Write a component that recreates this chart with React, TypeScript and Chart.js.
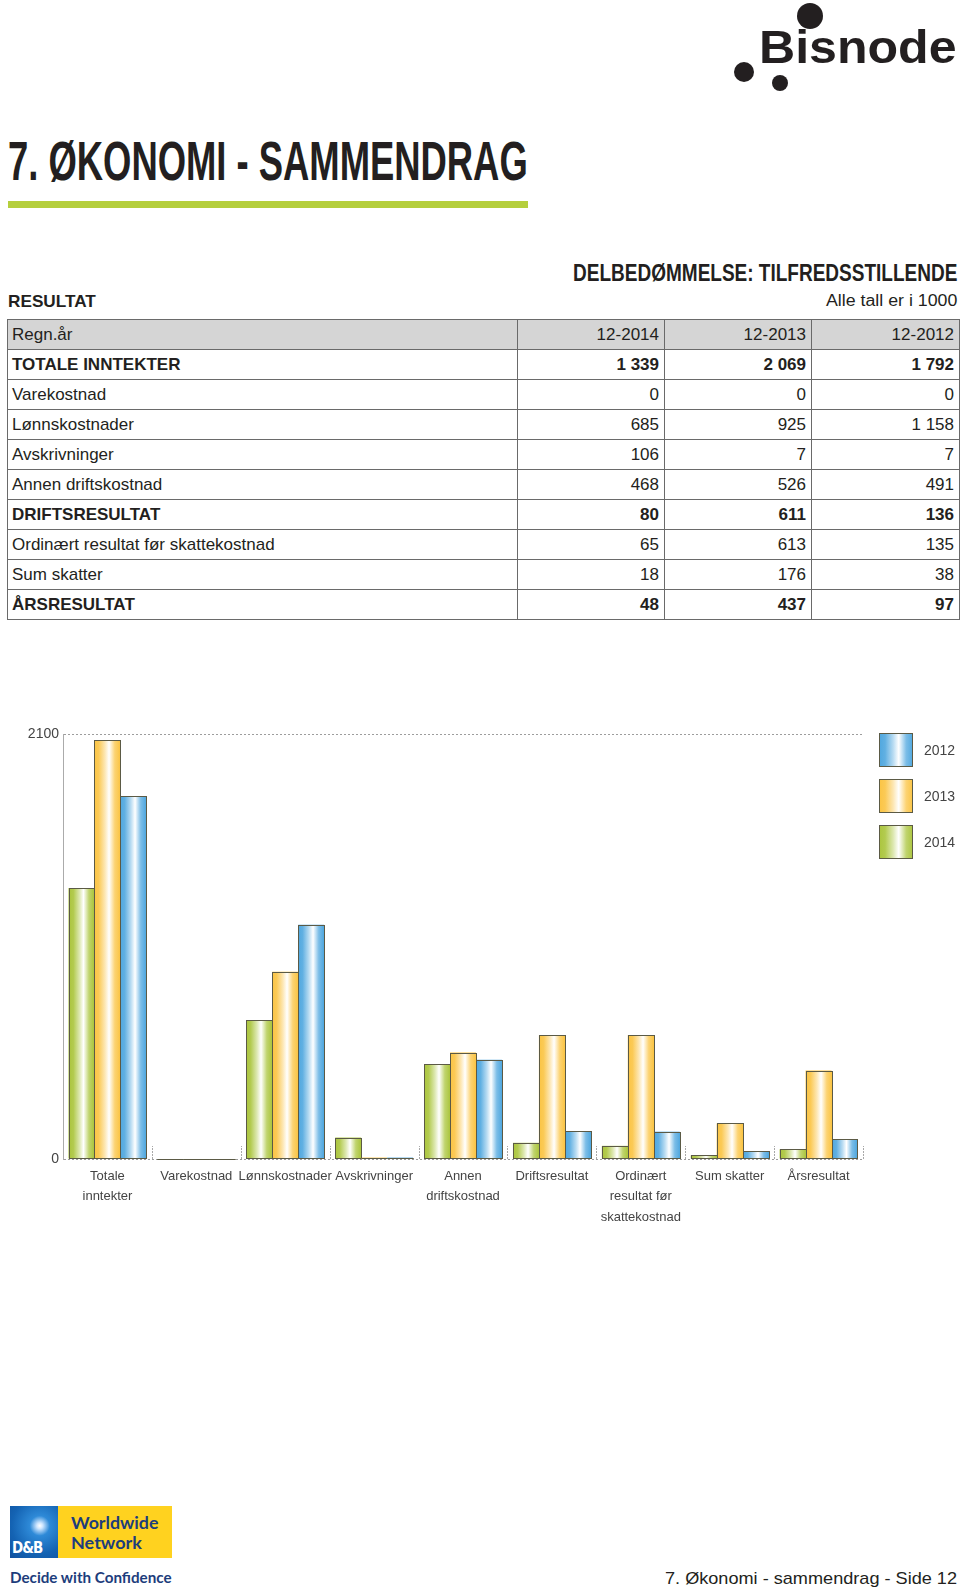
import React, { useEffect, useLayoutEffect, useRef, useState } from 'react';
import { Chart, registerables } from 'chart.js';

Chart.register(...registerables);

// ---------- data ----------
const tableHeaderLabel = 'Regn.år';
const periods = ['12-2014', '12-2013', '12-2012'];
const tableLabels = [
  'TOTALE INNTEKTER',
  'Varekostnad',
  'Lønnskostnader',
  'Avskrivninger',
  'Annen driftskostnad',
  'DRIFTSRESULTAT',
  'Ordinært resultat før skattekostnad',
  'Sum skatter',
  'ÅRSRESULTAT',
];
const boldRows = [true, false, false, false, false, true, false, false, true];
const chartLabels: (string | string[])[] = [
  ['Totale', 'inntekter'],
  'Varekostnad',
  'Lønnskostnader',
  'Avskrivninger',
  ['Annen', 'driftskostnad'],
  'Driftsresultat',
  ['Ordinært', 'resultat før', 'skattekostnad'],
  'Sum skatter',
  'Årsresultat',
];
const seriesNames = ['2014', '2013', '2012'];
const values2014 = [1339, 0, 685, 106, 468, 80, 65, 18, 48];
const values2013 = [2069, 0, 925, 7, 526, 611, 613, 176, 437];
const values2012 = [1792, 0, 1158, 7, 491, 136, 135, 38, 97];
const yTicks = [0, 2100];

// ---------- styles ----------
const seriesColors = ['#abc53d', '#fbc443', '#4fa7df'];
const BAR_BORDER = '#5b5a45';
const FONT = "'Liberation Sans', Arial, Helvetica, sans-serif";
const TEXT = '#231f20';

function mixWhite(hex: string, t: number) {
  const n = parseInt(hex.slice(1), 16);
  const r = (n >> 16) & 255, g = (n >> 8) & 255, b = n & 255;
  const m = (c: number) => Math.round(c + (255 - c) * t);
  return `rgb(${m(r)},${m(g)},${m(b)})`;
}

function barGradient(ctx: CanvasRenderingContext2D, left: number, width: number, color: string) {
  const g = ctx.createLinearGradient(left, 0, left + width, 0);
  g.addColorStop(0, color);
  g.addColorStop(0.18, mixWhite(color, 0.1));
  g.addColorStop(0.42, mixWhite(color, 0.6));
  g.addColorStop(0.58, '#ffffff');
  g.addColorStop(0.8, mixWhite(color, 0.25));
  g.addColorStop(1, color);
  return g;
}

const gradientBars = {
  id: 'gradientBars',
  afterDatasetsDraw(chart: any) {
    const ctx: CanvasRenderingContext2D = chart.ctx;
    ctx.save();
    chart.data.datasets.forEach((ds: any, di: number) => {
      const meta = chart.getDatasetMeta(di);
      meta.data.forEach((el: any) => {
        const { x, y, base, width } = el.getProps(['x', 'y', 'base', 'width'], true);
        const left = Math.round(x - width / 2);
        const right = Math.round(x + width / 2);
        const top = Math.round(Math.min(y, base));
        const bottom = Math.round(Math.max(y, base));
        const w = right - left;
        const h = bottom - top;
        if (h > 0) {
          ctx.fillStyle = barGradient(ctx, left, w, ds.backgroundColor);
          ctx.fillRect(left, top, w, h);
        }
        ctx.strokeStyle = BAR_BORDER;
        ctx.lineWidth = 1;
        ctx.strokeRect(left + 0.5, top + 0.5, w, Math.max(h - 1, 0));
      });
    });
    ctx.restore();
  },
};

const boundaryTicks = {
  id: 'boundaryTicks',
  beforeDatasetsDraw(chart: any) {
    const ctx: CanvasRenderingContext2D = chart.ctx;
    const xs = chart.scales.x;
    const bottom = chart.chartArea.bottom;
    const n = chart.data.labels.length;
    ctx.save();
    ctx.strokeStyle = '#a9a9a9';
    ctx.lineWidth = 1;
    ctx.setLineDash([2, 1]);
    for (let k = 1; k <= n; k++) {
      const bx = Math.round(xs.getPixelForValue(k - 0.5)) + 0.5;
      ctx.beginPath();
      ctx.moveTo(bx, bottom);
      ctx.lineTo(bx, bottom - 13);
      ctx.stroke();
    }
    ctx.restore();
  },
};

const sideLegend = {
  id: 'sideLegend',
  afterDraw(chart: any) {
    const ctx: CanvasRenderingContext2D = chart.ctx;
    const area = chart.chartArea;
    const dsets = chart.data.datasets;
    const bx = Math.round(area.right + 16);
    ctx.save();
    ctx.font = `14px ${FONT}`;
    ctx.textBaseline = 'middle';
    ctx.fillStyle = '#444';
    let row = 0;
    for (let i = dsets.length - 1; i >= 0; i--) {
      const by = Math.round(area.top - 1 + row * 46);
      ctx.fillStyle = barGradient(ctx, bx, 34, dsets[i].backgroundColor);
      ctx.fillRect(bx, by, 34, 34);
      ctx.strokeStyle = BAR_BORDER;
      ctx.lineWidth = 1;
      ctx.strokeRect(bx + 0.5, by + 0.5, 33, 33);
      ctx.fillStyle = '#444';
      ctx.fillText(dsets[i].label, bx + 45, by + 18);
      row++;
    }
    ctx.restore();
  },
};

function ResultChart() {
  const ref = useRef<HTMLCanvasElement>(null);
  useEffect(() => {
    if (!ref.current) return;
    Chart.defaults.font.family = FONT;
    const series = [values2014, values2013, values2012];
    const chart = new Chart(ref.current, {
      type: 'bar',
      data: {
        labels: chartLabels,
        datasets: series.map((vals, i) => ({
          label: seriesNames[i],
          data: vals,
          backgroundColor: seriesColors[i],
          borderWidth: 0,
          barPercentage: 1,
          categoryPercentage: 0.876,
        })),
      },
      options: {
        animation: false,
        responsive: false,
        maintainAspectRatio: false,
        events: [],
        layout: { padding: { left: 0, right: 97, top: 14, bottom: 0 } },
        plugins: { legend: { display: false }, tooltip: { enabled: false } },
        scales: {
          x: {
            grid: { display: false, drawTicks: false },
            border: { display: false },
            ticks: {
              autoSkip: false,
              maxRotation: 0,
              minRotation: 0,
              padding: 7,
              color: '#444',
              font: { size: 13, lineHeight: 1.58 },
            },
            afterFit: (s: any) => {
              s.height = 81;
            },
          },
          y: {
            min: 0,
            max: 2100,
            grid: { color: '#9d9d9d', lineWidth: 1, drawTicks: false },
            border: { display: true, color: '#ababab', width: 1, dash: [2, 2] },
            ticks: {
              color: '#444',
              padding: 4,
              font: { size: 14 },
              callback: (v: any) => String(v),
            },
            afterBuildTicks: (axis: any) => {
              axis.ticks = yTicks.map((v) => ({ value: v }));
            },
            afterFit: (s: any) => {
              s.width = 63;
            },
          },
        },
      },
      plugins: [boundaryTicks, gradientBars, sideLegend],
    });
    return () => chart.destroy();
  }, []);
  return (
    <canvas
      ref={ref}
      width={960}
      height={520}
      style={{ position: 'absolute', left: 0, top: 720, width: 960, height: 520 }}
    />
  );
}

function FitText(props: {
  text: string;
  width: number;
  top: number;
  left?: number;
  right?: number;
  size: number;
  weight?: number | string;
  color?: string;
  family?: string;
}) {
  const ref = useRef<HTMLSpanElement>(null);
  const [scale, setScale] = useState(1);
  useLayoutEffect(() => {
    if (ref.current) {
      const w = ref.current.offsetWidth;
      if (w > 0) setScale(props.width / w);
    }
  }, [props.text, props.width]);
  const alignRight = props.right !== undefined;
  return (
    <span
      ref={ref}
      style={{
        position: 'absolute',
        top: props.top,
        left: props.left,
        right: props.right,
        whiteSpace: 'nowrap',
        display: 'inline-block',
        lineHeight: 1,
        fontSize: props.size,
        fontWeight: props.weight ?? 'normal',
        fontFamily: props.family ?? FONT,
        color: props.color ?? TEXT,
        transform: `scaleX(${scale})`,
        transformOrigin: alignRight ? 'right top' : 'left top',
      }}
    >
      {props.text}
    </span>
  );
}

function fmt(n: number) {
  return String(n).replace(/\B(?=(\d{3})+(?!\d))/g, ' ');
}

function ResultTable() {
  const cols = [values2014, values2013, values2012];
  const cell: React.CSSProperties = {
    border: '1px solid #6a6a6a',
    height: 29,
    padding: '0 5px 0 4px',
    fontSize: 17,
    color: TEXT,
    whiteSpace: 'nowrap',
  };
  return (
    <table
      style={{
        position: 'absolute',
        left: 7,
        top: 319,
        width: 952,
        borderCollapse: 'collapse',
        fontFamily: FONT,
        tableLayout: 'fixed',
      }}
    >
      <colgroup>
        <col style={{ width: 510 }} />
        <col style={{ width: 147 }} />
        <col style={{ width: 147 }} />
        <col style={{ width: 148 }} />
      </colgroup>
      <tbody>
        <tr style={{ background: '#d5d5d5' }}>
          <td style={{ ...cell }}>{tableHeaderLabel}</td>
          {periods.map((p) => (
            <td key={p} style={{ ...cell, textAlign: 'right' }}>
              {p}
            </td>
          ))}
        </tr>
        {tableLabels.map((lab, r) => (
          <tr key={lab}>
            <td style={{ ...cell, fontWeight: boldRows[r] ? 'bold' : 'normal' }}>{lab}</td>
            {cols.map((c, ci) => (
              <td
                key={ci}
                style={{ ...cell, textAlign: 'right', fontWeight: boldRows[r] ? 'bold' : 'normal' }}
              >
                {fmt(c[r])}
              </td>
            ))}
          </tr>
        ))}
      </tbody>
    </table>
  );
}

function DBLogo() {
  return (
    <div style={{ position: 'absolute', left: 10, top: 1506, width: 162, height: 52 }}>
      <div
        style={{
          position: 'absolute',
          left: 0,
          top: 0,
          width: 48,
          height: 52,
          background:
            'radial-gradient(circle at 62% 38%, #ffffff 0px, #cfe6ff 3px, #2e8ad8 10px, #1463b3 28px, #0d3f8a 60px)',
        }}
      >
        <span
          style={{
            position: 'absolute',
            left: 2,
            bottom: 2,
            color: '#fff',
            fontFamily: "'DejaVu Sans Condensed', " + FONT,
            fontWeight: 'bold',
            fontSize: 15,
            lineHeight: 1,
            letterSpacing: -1,
          }}
        >
          D&amp;B
        </span>
      </div>
      <div
        style={{ position: 'absolute', left: 48, top: 0, width: 114, height: 52, background: '#ffd21f' }}
      />
      <FitText text="Worldwide" left={61} top={8} width={88} size={17} weight="bold" color="#1d3d7c" family="Lato, 'Open Sans', sans-serif" />
      <FitText text="Network" left={61} top={28} width={71} size={17} weight="bold" color="#1d3d7c" family="Lato, 'Open Sans', sans-serif" />
    </div>
  );
}

export default function App() {
  return (
    <div
      style={{
        position: 'absolute',
        left: 0,
        top: 0,
        width: 960,
        height: 1589,
        background: '#fff',
        fontFamily: FONT,
        overflow: 'hidden',
      }}
    >
      {/* Bisnode logo */}
      <div style={{ position: 'absolute', left: 797, top: 3, width: 26, height: 26, borderRadius: '50%', background: TEXT }} />
      <div style={{ position: 'absolute', left: 734, top: 62, width: 20, height: 20, borderRadius: '50%', background: TEXT }} />
      <div style={{ position: 'absolute', left: 772, top: 75, width: 16, height: 16, borderRadius: '50%', background: TEXT }} />
      <FitText text="Bisnode" left={759} top={24} width={197} size={46} weight="bold" />

      {/* Title */}
      <FitText text="7. ØKONOMI - SAMMENDRAG" left={8} top={133} width={520} size={56} weight="bold" />
      <div style={{ position: 'absolute', left: 8, top: 201, width: 520, height: 7, background: '#b5cf3d' }} />

      <FitText text="DELBEDØMMELSE: TILFREDSSTILLENDE" right={3} top={261} width={384} size={24} weight="bold" />
      <FitText text="RESULTAT" left={8} top={293} width={88} size={17} weight="bold" />
      <FitText text="Alle tall er i 1000" right={3} top={293} width={131} size={16} />

      <ResultTable />
      <ResultChart />

      {/* Footer */}
      <DBLogo />
      <FitText text="Decide with Confidence" left={10} top={1570} width={162} size={15} weight="bold" color="#1d3d7c" family="Lato, 'Open Sans', sans-serif" />
      <FitText text="7. Økonomi - sammendrag - Side 12" right={3} top={1570} width={292} size={17} />
    </div>
  );
}
